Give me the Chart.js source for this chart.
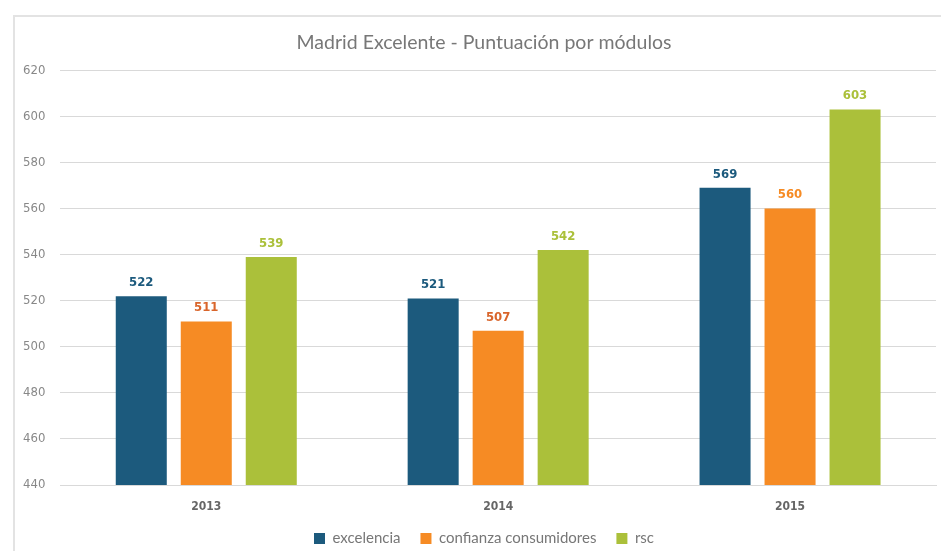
<!DOCTYPE html>
<html>
<head>
<meta charset="utf-8">
<script src="https://cdn.jsdelivr.net/npm/chart.js@4/dist/chart.umd.min.js"></script>
<style>
	html, body { margin: 0; padding: 0; background: #fff; }
	#frame { position: absolute; left: 13px; top: 15px; width: 940px; height: 550px;
		border-left: 2px solid #e3e3e3; border-top: 2px solid #e3e3e3; }
	#wrap { position: absolute; left: 0; top: 0; width: 941px; height: 551px; }
</style>
</head>
<body>
<div id="frame"></div>
<div id="wrap"><canvas id="Chart"></canvas></div>
<script>
// values
var years = ["2013", "2014", "2015"];
var excelencia = [522, 521, 569];
var confianza = [511, 507, 560];
var rsc = [539, 542, 603];
var yTicks = [440, 460, 480, 500, 520, 540, 560, 580, 600, 620];

var labelFont = "'DejaVu Sans Condensed', 'Liberation Sans Narrow', sans-serif";
var textFont = "Lato, 'Open Sans', sans-serif";

// value labels above each bar
var barLabels = {
	id: "barLabels",
	afterDatasetsDraw: function (chart)
	{
		var ctx = chart.ctx;
		ctx.save();
		ctx.font = "bold 13px " + labelFont;
		ctx.textAlign = "center";
		ctx.textBaseline = "bottom";
		chart.data.datasets.forEach(function (ds, i)
		{
			chart.getDatasetMeta(i).data.forEach(function (bar, j)
			{
				ctx.fillStyle = ds.labelColors ? ds.labelColors[j] : ds.backgroundColor;
				ctx.fillText(ds.data[j], bar.x, bar.y - 7);
			});
		});
		ctx.restore();
	}
};

// title and legend sit centred on the framed box, a bit right of the canvas centre
var nudge = {
	id: "nudge",
	afterLayout: function (chart)
	{
		[chart.titleBlock, chart.legend].forEach(function (box)
		{
			if (!box) return;
			box.left += 12;
			box.right += 12;
		});
	}
};

new Chart(document.getElementById("Chart"), {
	type: "bar",
	data: {
		labels: years,
		datasets: [
			{label: "excelencia", data: excelencia, backgroundColor: "#1c5a7d"},
			{label: "confianza consumidores", data: confianza, backgroundColor: "#f68b24",
				labelColors: ["#d9652b", "#d9652b", "#f68b24"]},
			{label: "rsc", data: rsc, backgroundColor: "#abc03a"}
		]
	},
	options: {
		responsive: true,
		maintainAspectRatio: false,
		animation: false,
		barPercentage: 0.785,
		categoryPercentage: 0.668,
		layout: {padding: {left: 8, right: 5, top: 10, bottom: -5}},
		plugins: {
			title: {
				display: true,
				text: "Madrid Excelente - Puntuación por módulos",
				color: "#777",
				font: {family: textFont, size: 19.5, weight: "normal"},
				padding: {top: 21, bottom: 16}
			},
			legend: {
				position: "bottom",
				labels: {
					color: "#777",
					font: {family: textFont, size: 15},
					boxWidth: 11,
					boxHeight: 11,
					padding: 20
				}
			},
			tooltip: {enabled: false}
		},
		scales: {
			x: {
				grid: {display: false},
				border: {color: "#d9d9d9"},
				ticks: {color: "#666", font: {family: labelFont, size: 12, weight: "bold"}, padding: 7},
				afterFit: function (axis) { axis.height = 26; }
			},
			y: {
				min: 440,
				max: 620,
				afterBuildTicks: function (axis) { axis.ticks = yTicks.map(function (v) { return {value: v}; }); },
				grid: {color: "#d9d9d9", drawTicks: false},
				border: {display: false},
				ticks: {color: "#888", font: {family: labelFont, size: 13}, padding: 15}
			}
		}
	},
	plugins: [barLabels, nudge]
});
</script>
</body>
</html>
